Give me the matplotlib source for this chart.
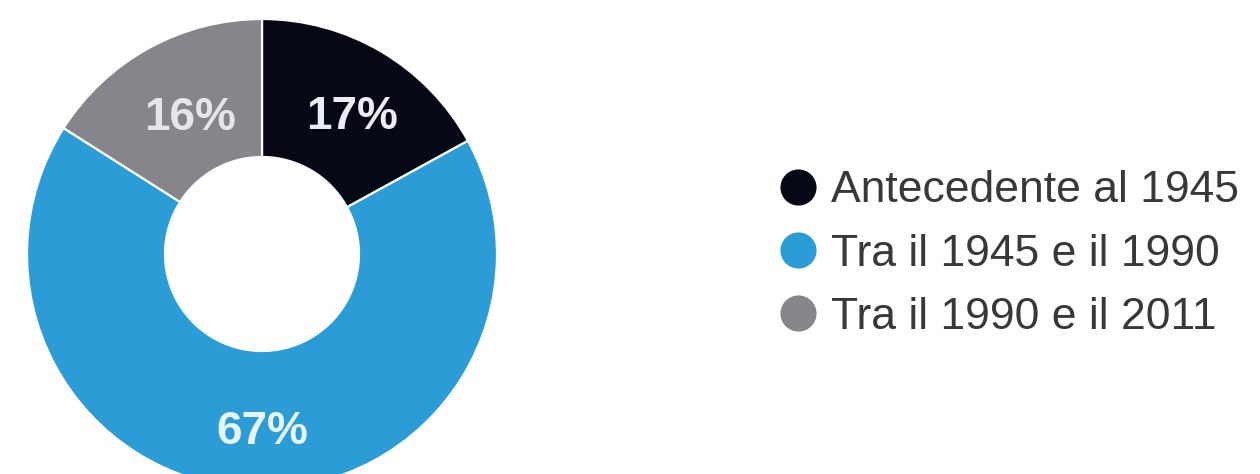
#!/usr/bin/env python3
# -*- coding: utf-8 -*-
### HEADER ------------------------------------------------------------------------
import numpy as np
import matplotlib as mpl
import matplotlib.pyplot as plt
from matplotlib.lines import Line2D
###--------------------------------------------------------------------------------

mpl.rcParams['font.family'] = ['Liberation Sans', 'DejaVu Sans']

# data
categories = ['Antecedente al 1945', 'Tra il 1945 e il 1990', 'Tra il 1990 e il 2011']
shares     = [17, 67, 16]
labels     = ['17%', '67%', '16%']
colors     = ['#070816', '#2b9cd6', '#86858c']
label_cols = ['#eceaf2', '#e8f3fb', '#e6e6ea']
label_rad  = [0.71, 0.74, 0.67]   # relative radius of the % labels
label_turn = [-1.9, 1.8, -1.8]    # small angular shift of labels (deg)

W, H = 1260, 474
fig = plt.figure(figsize = (W/100, H/100), dpi = 100)
ax = fig.add_axes([0, 0, 1, 1])

# pie in pixel-like data coords
cx, cy, R = 262, H - 254, 235
wedges, _ = ax.pie(shares, colors = colors, startangle = 90, counterclock = False,
                   center = (cx, cy), radius = R,
                   wedgeprops = dict(width = R - 97, edgecolor = 'white', linewidth = 1.6))

for w, lab, col, rr, dt in zip(wedges, labels, label_cols, label_rad, label_turn):
    ang = np.deg2rad(0.5*(w.theta1 + w.theta2) + dt)
    ax.text(cx + rr*R*np.cos(ang), cy + rr*R*np.sin(ang) - 4, lab,
            ha = 'center', va = 'center', fontsize = 33, fontweight = 'bold', color = col)

# legend
handles = [Line2D([], [], ls = 'none', marker = 'o', markersize = 25,
                  markerfacecolor = c, markeredgecolor = c) for c in colors]
ax.legend(handles, categories, loc = 'center left', bbox_to_anchor = (780, H - 254),
          bbox_transform = ax.transData, frameon = False, fontsize = 32,
          labelcolor = '#383838', handlelength = 0.8, handletextpad = 0.35,
          labelspacing = 0.5, borderpad = 0, borderaxespad = 0)

ax.set_xlim(0, W)
ax.set_ylim(0, H)
ax.set_aspect('equal')
ax.axis('off')

plt.savefig('out.png', dpi = 100)
plt.close()
